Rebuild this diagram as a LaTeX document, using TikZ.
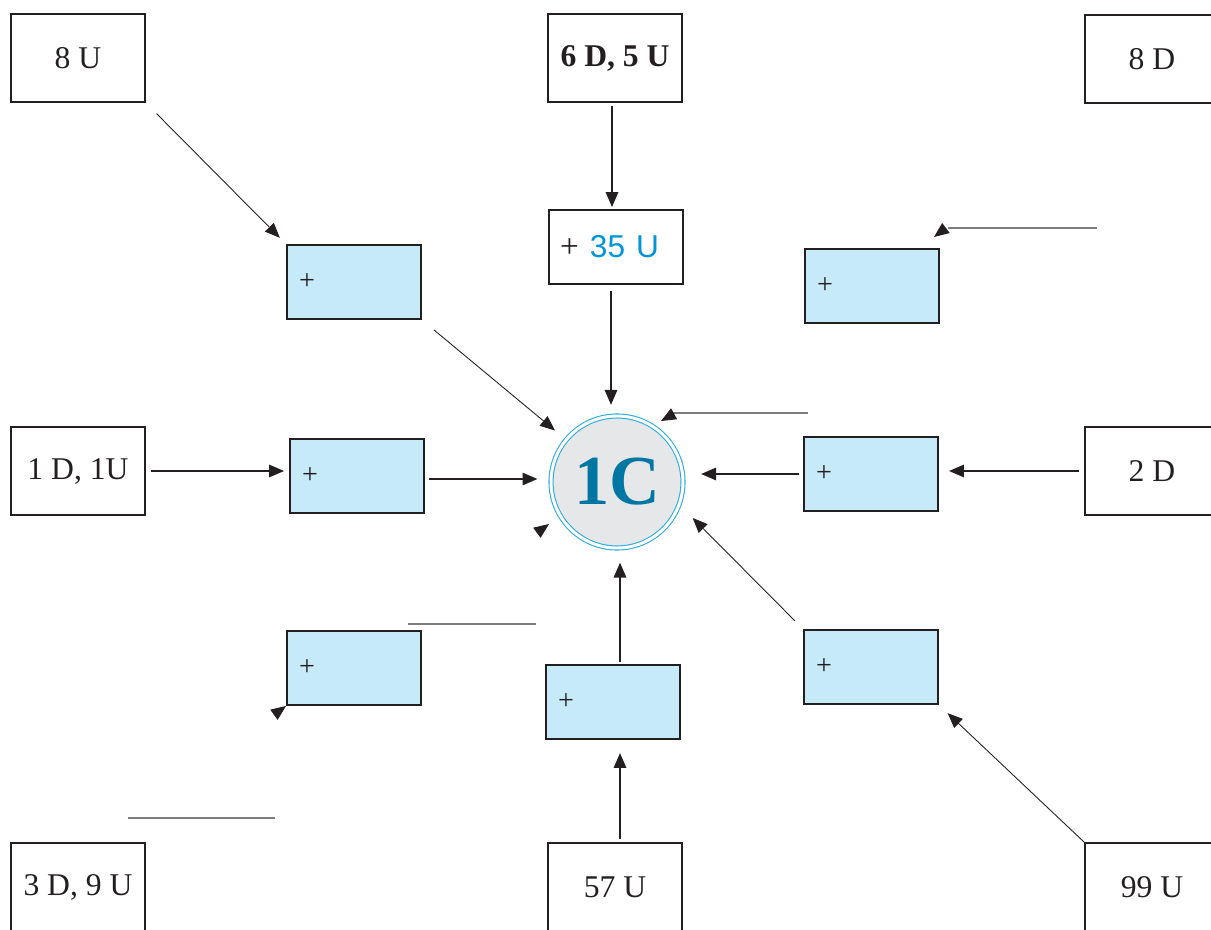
\documentclass[tikz,border=0pt]{standalone}
\usepackage{fontspec}
\setmainfont{Liberation Serif}
\setsansfont{Liberation Sans}
\usepackage{xcolor}
\usetikzlibrary{arrows.meta}
\definecolor{encre}{RGB}{35,31,32}
\definecolor{caseblue}{RGB}{199,234,249}
\definecolor{anneau}{RGB}{41,171,226}
\definecolor{fondcercle}{RGB}{230,231,232}
\definecolor{centcolor}{RGB}{0,119,163}
\definecolor{nombrecolor}{RGB}{0,150,214}
\definecolor{traitgris}{RGB}{125,125,125}

\begin{document}
\begin{tikzpicture}[
    boite/.style={draw=encre, line width=1.1pt, minimum width=2.68cm, minimum height=1.76cm, inner sep=0pt, text=encre, font=\fontsize{18}{20}\selectfont},
    case/.style={draw=encre, line width=1.1pt, fill=caseblue, minimum width=2.68cm, minimum height=1.48cm, inner xsep=0.24cm, inner ysep=0pt, text width=2.2cm, align=left, text=encre, font=\fontsize{16}{18}\selectfont},
    cercle/.style={circle, draw=anneau, line width=0.6pt, double=white, double distance=1.7pt, fill=fondcercle, minimum size=2.64cm, inner sep=0pt, text=centcolor, font=\fontsize{40}{40}\selectfont\bfseries},
    fleche/.style={-{Triangle[length=8.5pt,width=7pt]}, line width=1.1pt, encre},
    fine/.style={-{Triangle[length=8.5pt,width=7pt]}, line width=0.5pt, encre},
    pointe/.style={-{Triangle[length=8.5pt,width=7pt]}, line width=0.5pt, encre},
    gris/.style={line width=0.8pt, traitgris}
]
    \useasboundingbox (0,0) rectangle (24.22,18.58);

    % Centre
    \node[cercle] (c1) at (12.34,8.94) {1C};

    % === Boites de depart ===
    \node[boite] (u8) at (1.56,17.42) {8 U};
    \node[boite] (d6u5) at (12.30,17.42) {\bfseries 6 D, 5 U};
    \node[boite] (d8) at (23.04,17.40) {8 D};
    \node[boite] (d1u1) at (1.56,9.16) {1 D, 1U};
    \node[boite] (d2) at (23.04,9.16) {2 D};
    \node[boite] (d3u9) at (1.56,0.84) {3 D, 9 U};
    \node[boite] (u57) at (12.30,0.84) {57 U};
    \node[boite] (u99) at (23.04,0.84) {99 U};

    % === Cases a completer ===
    \node[case] (hg) at (7.08,12.94) {+};
    \node[case, fill=white, inner xsep=0.22cm, text width=2.24cm, font=\fontsize{19}{21}\selectfont] (u35) at (12.32,13.64) {+ {\sffamily\fontsize{18}{20}\selectfont\color{nombrecolor}35 U}};
    \node[case] (hd) at (17.44,12.86) {+};
    \node[case] (mg) at (7.14,9.06) {+};
    \node[case] (md) at (17.42,9.10) {+};
    \node[case] (bg) at (7.08,5.22) {+};
    \node[case] (bm) at (12.26,4.54) {+};
    \node[case] (bd) at (17.42,5.24) {+};

    % Colonne du milieu
    \draw[fleche, shorten <=1.7pt, shorten >=1.1pt] ([xshift=-0.06cm]d6u5.south) -- ([xshift=-0.06cm]d6u5.south |- u35.north);
    \draw[fleche, shorten <=3.4pt, shorten >=6pt] ([xshift=-0.1cm]u35.south) -- ([xshift=-0.1cm]u35.south |- c1.north);
    \draw[fleche, shorten <=1.7pt, shorten >=7.4pt] ([xshift=0.1cm]u57.north) -- ([xshift=0.1cm]u57.north |- bm.south);
    \draw[fleche, shorten <=1.1pt, shorten >=8pt] ([xshift=0.14cm]bm.north) -- ([xshift=0.14cm]bm.north |- c1.south);

    % Ligne du milieu
    \draw[fleche, shorten <=2.8pt, shorten >=2.8pt] (d1u1.east) -- (d1u1.east -| mg.west);
    \draw[fleche, shorten <=2.3pt, shorten >=7.4pt] ([yshift=-0.06cm]mg.east) -- ([yshift=-0.06cm]mg.east -| c1.west);
    \draw[fleche, shorten <=2.8pt, shorten >=5.7pt] (d2.west) -- (d2.west -| md.east);
    \draw[fleche, shorten <=2.3pt, shorten >=10pt] (md.west) -- (md.west -| c1.east);

    % Diagonales
    \draw[fine, shorten <=8.5pt, shorten >=5pt] (u8.south east) -- (hg.north west);
    \draw[fine, shorten <=8.8pt, shorten >=8pt] (hg.south east) -- (c1);
    \draw[fine, shorten >=6.8pt] (u99.north west) -- (bd.south east);
    \draw[fine, shorten <=6.5pt, shorten >=10.6pt] (bd.north west) -- (c1.-20);

    % === Traits gris et pointes seules ===
    \coordinate (g1a) at (21.94,14.02);
    \coordinate (g1b) at (18.96,14.02);
    \coordinate (g2a) at (16.16,10.32);
    \coordinate (g2b) at (13.44,10.32);
    \coordinate (g3a) at (8.16,6.10);
    \coordinate (g3b) at (10.72,6.10);
    \coordinate (g4a) at (2.56,2.22);
    \coordinate (g4b) at (5.50,2.22);
    \draw[gris] (g1a) -- (g1b);
    \draw[gris] (g2a) -- (g2b);
    \draw[gris] (g3a) -- (g3b);
    \draw[gris] (g4a) -- (g4b);

    \coordinate (pA) at (18.68,13.84);
    \coordinate (pB) at (13.22,10.16);
    \coordinate (pC) at (10.98,8.10);
    \draw[pointe] ([shift={(37:8.5pt)}]pA) -- (pA);
    \draw[pointe] ([shift={(29:8.5pt)}]pB) -- (pB);
    \draw[pointe] ([shift={(216:8.5pt)}]pC) -- (pC);
    \draw[pointe] ([shift={(216:8.5pt)}]bg.south west) -- (bg.south west);
\end{tikzpicture}
\end{document}
